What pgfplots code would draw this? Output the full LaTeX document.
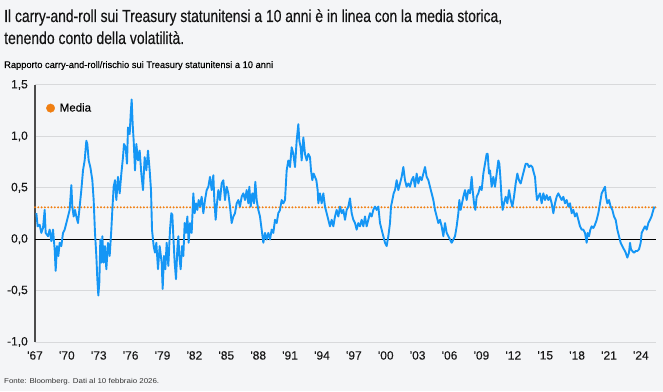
\documentclass[border=0pt]{standalone}
\usepackage{pgfplots}
\usepackage{pgfplotstable}
\pgfplotsset{compat=1.18}
\usepackage{fontspec}
\setmainfont{Liberation Sans}
\newfontfamily\titlefont{Liberation Sans}[FakeBold=0.35]
\newfontfamily\medfont{Liberation Sans}[FakeBold=0.15]
\definecolor{bg}{HTML}{F4F5F7}
\definecolor{lblue}{HTML}{1596F5}
\definecolor{morange}{HTML}{F07F12}
\definecolor{gridc}{HTML}{D8D9DB}
\newsavebox\fitbox
\newcommand\fitw[3]{\sbox\fitbox{\fontsize{#2}{#2}\selectfont #3}\pgfmathsetmacro\sx{#1/\the\wd\fitbox}\scalebox{\sx}[1]{\usebox\fitbox}}

\pgfplotstableread{
x y
1967.126 0.253
1967.251 0.125
1967.439 0.141
1967.596 0.061
1967.753 0.109
1967.910 0.285
1968.004 0.061
1968.223 0.029
1968.380 0.093
1968.537 -0.019
1968.693 0.093
1968.850 -0.099
1968.944 -0.308
1969.070 -0.067
1969.195 -0.163
1969.321 -0.035
1969.477 -0.067
1969.634 0.061
1969.791 0.093
1969.948 0.157
1970.105 0.221
1970.261 0.285
1970.418 0.526
1970.512 0.317
1970.638 0.221
1970.763 0.285
1970.888 0.221
1971.045 0.157
1971.202 0.317
1971.359 0.478
1971.516 0.670
1971.672 0.766
1971.829 0.958
1971.923 0.926
1972.049 0.766
1972.206 0.702
1972.394 0.574
1972.519 0.381
1972.644 0.061
1972.770 -0.163
1972.864 -0.388
1972.958 -0.548
1973.052 -0.420
1973.146 -0.003
1973.240 -0.228
1973.334 0.029
1973.460 -0.228
1973.585 -0.067
1973.711 -0.292
1973.867 -0.035
1974.024 -0.163
1974.181 0.093
1974.275 0.285
1974.400 0.510
1974.526 0.574
1974.651 0.381
1974.808 0.606
1974.965 0.446
1975.122 0.638
1975.278 0.798
1975.372 0.926
1975.529 0.894
1975.655 0.734
1975.749 1.087
1975.906 1.022
1976.000 1.215
1976.094 1.359
1976.188 1.119
1976.282 0.958
1976.407 0.670
1976.533 0.926
1976.690 0.766
1976.846 0.862
1977.003 0.638
1977.160 0.478
1977.317 0.798
1977.474 0.670
1977.630 0.862
1977.787 0.670
1977.913 0.478
1978.007 0.093
1978.163 -0.067
1978.289 -0.131
1978.414 -0.035
1978.571 -0.292
1978.728 -0.067
1978.916 -0.228
1979.010 -0.484
1979.135 -0.163
1979.261 -0.292
1979.386 -0.035
1979.543 -0.260
1979.700 0.093
1979.825 0.253
1979.919 0.237
1980.013 0.029
1980.139 -0.228
1980.264 -0.388
1980.390 -0.099
1980.484 0.029
1980.578 -0.163
1980.703 -0.292
1980.829 -0.067
1980.954 -0.163
1981.079 0.157
1981.205 0.061
1981.330 0.221
1981.456 -0.035
1981.581 0.157
1981.738 0.061
1981.895 0.446
1982.020 0.253
1982.146 0.349
1982.271 0.285
1982.396 0.381
1982.522 0.317
1982.679 0.413
1982.835 0.253
1982.992 0.381
1983.149 0.478
1983.306 0.510
1983.463 0.606
1983.619 0.478
1983.776 0.622
1983.870 0.381
1983.996 0.189
1984.090 0.317
1984.247 0.478
1984.403 0.381
1984.560 0.542
1984.717 0.574
1984.874 0.381
1985.030 0.510
1985.187 0.446
1985.344 0.317
1985.501 0.157
1985.658 0.221
1985.814 0.253
1985.971 0.349
1986.128 0.381
1986.285 0.317
1986.442 0.413
1986.598 0.446
1986.755 0.381
1986.912 0.478
1987.069 0.349
1987.163 0.510
1987.288 0.317
1987.445 0.446
1987.602 0.349
1987.727 0.558
1987.853 0.381
1988.009 0.285
1988.166 0.221
1988.323 0.093
1988.480 -0.035
1988.637 0.061
1988.793 -0.003
1988.950 0.061
1989.107 -0.003
1989.264 0.093
1989.420 0.061
1989.577 0.189
1989.734 0.157
1989.891 0.253
1990.048 0.285
1990.204 0.381
1990.361 0.349
1990.518 0.381
1990.675 0.670
1990.832 0.766
1990.988 0.702
1991.145 0.894
1991.302 0.830
1991.459 0.702
1991.615 0.958
1991.772 1.119
1991.866 0.958
1991.992 0.894
1992.086 0.766
1992.243 0.990
1992.399 0.830
1992.556 0.766
1992.713 0.830
1992.870 0.798
1992.964 0.670
1993.089 0.574
1993.215 0.638
1993.340 0.606
1993.466 0.574
1993.591 0.478
1993.654 0.349
1993.810 0.446
1993.967 0.349
1994.124 0.446
1994.281 0.317
1994.437 0.253
1994.594 0.189
1994.751 0.125
1994.908 0.189
1995.065 0.125
1995.221 0.221
1995.378 0.285
1995.535 0.221
1995.692 0.317
1995.849 0.253
1996.005 0.285
1996.162 0.189
1996.319 0.285
1996.476 0.317
1996.632 0.397
1996.789 0.253
1996.946 0.189
1997.103 0.157
1997.260 0.093
1997.416 0.157
1997.573 0.125
1997.730 0.189
1997.887 0.125
1998.044 0.221
1998.200 0.125
1998.357 0.189
1998.514 0.253
1998.671 0.221
1998.828 0.285
1998.984 0.317
1999.141 0.285
1999.298 0.317
1999.455 0.157
1999.612 0.093
1999.768 0.029
1999.925 -0.035
2000.082 -0.067
2000.239 0.029
2000.395 0.157
2000.490 0.317
2000.615 0.381
2000.740 0.446
2000.866 0.478
2001.023 0.574
2001.179 0.478
2001.336 0.542
2001.493 0.606
2001.650 0.702
2001.807 0.574
2001.963 0.510
2002.120 0.542
2002.278 0.510
2002.435 0.574
2002.592 0.606
2002.748 0.510
2002.905 0.638
2003.062 0.542
2003.219 0.606
2003.375 0.574
2003.532 0.638
2003.689 0.702
2003.846 0.606
2004.003 0.574
2004.159 0.510
2004.316 0.446
2004.473 0.381
2004.630 0.285
2004.787 0.221
2004.943 0.157
2005.100 0.189
2005.257 0.125
2005.414 0.029
2005.570 0.157
2005.727 0.061
2005.884 0.029
2006.041 -0.003
2006.198 -0.035
2006.354 -0.003
2006.511 0.029
2006.668 0.125
2006.825 0.253
2006.919 0.381
2007.044 0.285
2007.170 0.349
2007.295 0.413
2007.452 0.478
2007.609 0.381
2007.765 0.478
2007.922 0.446
2008.079 0.606
2008.173 0.478
2008.299 0.349
2008.424 0.285
2008.549 0.413
2008.706 0.446
2008.863 0.510
2009.020 0.478
2009.177 0.638
2009.333 0.734
2009.490 0.830
2009.584 0.830
2009.710 0.638
2009.804 0.670
2009.961 0.510
2010.117 0.606
2010.274 0.510
2010.431 0.638
2010.588 0.766
2010.682 0.734
2010.776 0.606
2010.901 0.381
2010.995 0.285
2011.121 0.349
2011.278 0.413
2011.434 0.349
2011.591 0.478
2011.748 0.381
2011.905 0.317
2012.062 0.413
2012.218 0.542
2012.375 0.638
2012.532 0.574
2012.689 0.542
2012.846 0.606
2013.002 0.670
2013.159 0.734
2013.316 0.734
2013.473 0.702
2013.629 0.718
2013.786 0.702
2013.943 0.638
2014.037 0.606
2014.131 0.478
2014.225 0.381
2014.351 0.413
2014.507 0.446
2014.664 0.349
2014.821 0.446
2014.978 0.381
2015.135 0.429
2015.291 0.381
2015.448 0.413
2015.605 0.349
2015.762 0.253
2015.918 0.349
2016.075 0.413
2016.232 0.446
2016.389 0.413
2016.546 0.381
2016.702 0.413
2016.859 0.349
2017.016 0.381
2017.173 0.317
2017.330 0.349
2017.486 0.253
2017.643 0.285
2017.800 0.221
2017.957 0.253
2018.113 0.189
2018.270 0.125
2018.427 0.093
2018.584 0.093
2018.741 0.061
2018.897 -0.035
2018.991 0.061
2019.117 0.029
2019.242 0.093
2019.368 0.125
2019.524 0.109
2019.681 0.141
2019.838 0.189
2019.995 0.253
2020.152 0.349
2020.308 0.446
2020.465 0.478
2020.622 0.510
2020.716 0.413
2020.841 0.349
2020.998 0.381
2021.155 0.317
2021.312 0.285
2021.469 0.221
2021.625 0.189
2021.782 0.093
2021.939 0.029
2022.096 -0.035
2022.252 -0.067
2022.409 -0.099
2022.566 -0.131
2022.723 -0.179
2022.880 -0.131
2022.974 -0.035
2023.068 -0.099
2023.193 -0.115
2023.350 -0.131
2023.507 -0.115
2023.664 -0.115
2023.820 -0.099
2023.977 -0.035
2024.071 0.061
2024.228 0.093
2024.385 0.125
2024.542 0.093
2024.699 0.157
2024.855 0.189
2024.995 0.221
2025.169 0.285
2025.263 0.317
}\ratio

\begin{document}
\begin{tikzpicture}
\fill[bg] (0pt,0pt) rectangle (663pt,391pt);
\useasboundingbox (0pt,0pt) rectangle (663pt,391pt);
\node[anchor=base west, inner sep=0pt, text=black!92] at (4pt,369pt) {\titlefont\fitw{498}{17.4}{Il carry-and-roll sui Treasury statunitensi a 10 anni è in linea con la media storica,}};
\node[anchor=base west, inner sep=0pt, text=black!92] at (4pt,347pt) {\titlefont\fitw{180}{17.4}{tenendo conto della volatilità.}};
\node[anchor=base west, inner sep=0pt] at (4pt,323pt) {\medfont\fitw{269}{9.6}{Rapporto carry-and-roll/rischio sui Treasury statunitensi a 10 anni}};
\node[anchor=base west, inner sep=0pt, text=black!80] at (4pt,7.5pt) {\fitw{155}{7}{Fonte: Bloomberg. Dati al 10 febbraio 2026.}};
\begin{axis}[
  at={(35pt,49pt)}, anchor=south west,
  width=621pt, height=257pt, scale only axis,
  xmin=1967, xmax=2025.42, ymin=-1, ymax=1.5,
  ytick={-1,-0.5,0,0.5,1,1.5},
  xtick={1967,1970,1973,1976,1979,1982,1985,1988,1991,1994,1997,2000,2003,2006,2009,2012,2015,2018,2021,2024},
  xticklabels={{\textquotesingle 67},{\textquotesingle 70},{\textquotesingle 73},{\textquotesingle 76},{\textquotesingle 79},{\textquotesingle 82},{\textquotesingle 85},{\textquotesingle 88},{\textquotesingle 91},{\textquotesingle 94},{\textquotesingle 97},{\textquotesingle 00},{\textquotesingle 03},{\textquotesingle 06},{\textquotesingle 09},{\textquotesingle 12},{\textquotesingle 15},{\textquotesingle 18},{\textquotesingle 21},{\textquotesingle 24}},
  major tick length=0pt,
  ymajorgrids, grid style={gridc, line width=1pt},
  separate axis lines,
  axis x line*=bottom, axis y line*=left,
  x axis line style={gridc, line width=1pt, -},
  y axis line style={black!70, line width=1.2pt, -},
  /pgf/number format/assume math mode=true,
  /pgf/number format/use comma,
  /pgf/number format/fixed,
  /pgf/number format/fixed zerofill,
  /pgf/number format/precision=1,
  ticklabel style={font=\medfont\fontsize{12}{12}\selectfont, text=black!90},
  yticklabel style={inner sep=0pt, xshift=-7pt},
  xticklabel style={inner sep=0pt, yshift=-9pt},
  legend style={at={(rel axis cs:0.018,0.91)}, anchor=west, draw=none, fill=none, font=\medfont\fontsize{11.5}{12}\selectfont, inner sep=0pt},
  legend cell align=left,
  clip=false,
]
\addplot[black, line width=1pt, forget plot] coordinates {(1967,0) (2025.42,0)};
\addplot[morange, line width=2.2pt, line cap=round, dash pattern=on 0pt off 3.3pt, forget plot] coordinates {(1967,0.31) (2025.42,0.31)};
\addplot[lblue, line width=1.9pt, line join=round, forget plot] table[x=x,y=y] {\ratio};
\addlegendimage{only marks, mark=*, mark size=4.2pt, morange}
\addlegendentry{\hspace{3pt}Media}
\end{axis}
\end{tikzpicture}
\end{document}
